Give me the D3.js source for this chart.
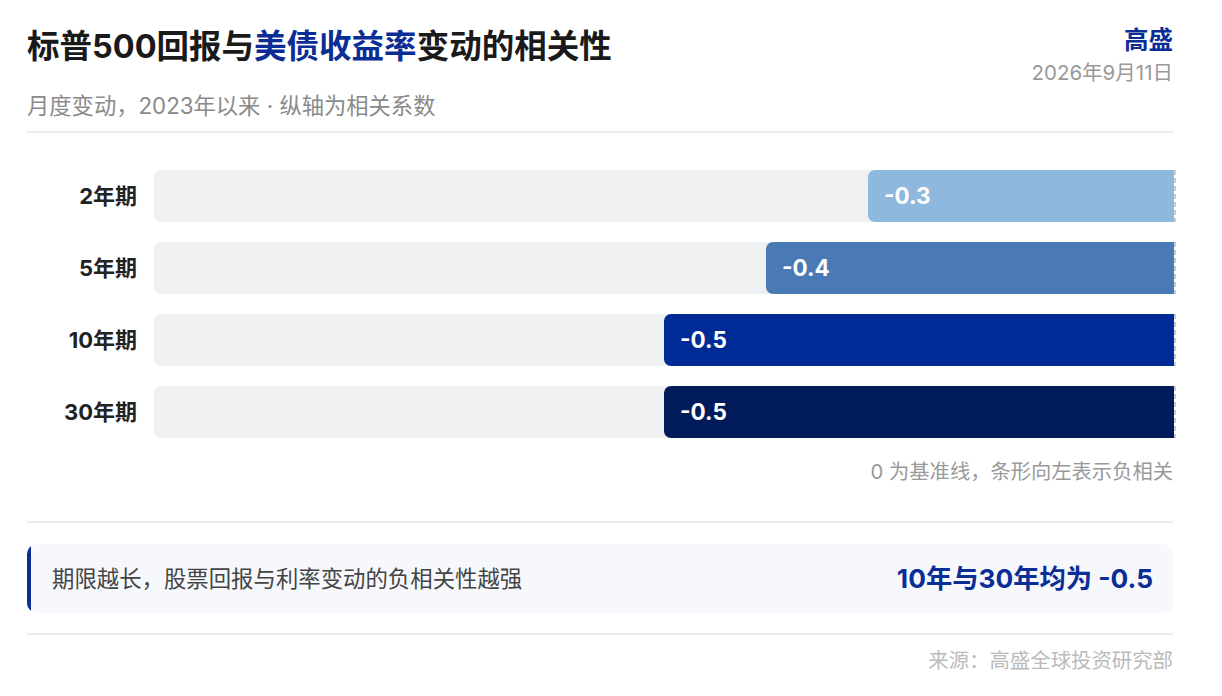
<!DOCTYPE html>
<html>
<head>
<meta charset="utf-8">
<script src="https://cdn.jsdelivr.net/npm/d3@7"></script>
<style>
  html, body { margin: 0; padding: 0; background: #fff; }
  svg { display: block; font-family: "Inter", "Noto Sans CJK SC", sans-serif; }
</style>
</head>
<body>
<div id="chart"></div>
<script>
// 数据
const tenors = ["2年期", "5年期", "10年期", "30年期"];
const correlations = [-0.3, -0.4, -0.5, -0.5];
const barColors = ["#8fb8de", "#4a7ab5", "#002a96", "#001a5a"];
const xDomain = [-1, 0];

const W = 1222, H = 696;
const blue = "#0a2d96";

const svg = d3.select("#chart").append("svg")
    .attr("width", W).attr("height", H);

// 标题
const title = svg.append("text")
    .attr("x", 27).attr("y", 58)
    .style("font-size", "32.5px").style("font-weight", 700).style("fill", "#1a1a1a");
title.append("tspan").text("标普500回报与");
title.append("tspan").text("美债收益率").style("fill", blue);
title.append("tspan").text("变动的相关性");

svg.append("text")
    .attr("x", 27).attr("y", 114)
    .style("font-size", "22.3px").style("fill", "#8a8a8a")
    .text("月度变动，2023年以来 · 纵轴为相关系数");

svg.append("text")
    .attr("x", 1173).attr("y", 49).attr("text-anchor", "end")
    .style("font-size", "24.5px").style("font-weight", 700).style("fill", blue)
    .text("高盛");

svg.append("text")
    .attr("x", 1173).attr("y", 80).attr("text-anchor", "end")
    .style("font-size", "20.5px").style("fill", "#999")
    .text("2026年9月11日");

function rule(y) {
    svg.append("line")
        .attr("x1", 27).attr("x2", 1173).attr("y1", y).attr("y2", y)
        .style("stroke", "#ececec").style("stroke-width", 2);
}
rule(132);

// 条形
const x = d3.scaleLinear().domain(xDomain).range([154, 1174]);
const y = d3.scaleBand().domain(tenors).range([160, 448]).paddingInner(0.277).paddingOuter(0.14);

const rows = svg.append("g").selectAll("g")
    .data(tenors.map((t, i) => ({ t, v: correlations[i], c: barColors[i] })))
    .join("g");

// 背景轨道
rows.append("path")
    .attr("d", d => leftRounded(x(xDomain[0]), y(d.t), x(0) - x(xDomain[0]), y.bandwidth(), 7))
    .style("fill", "#eff0f2");

rows.append("path")
    .attr("d", d => leftRounded(x(d.v), y(d.t), x(0) - x(d.v), y.bandwidth(), 7))
    .style("fill", d => d.c);

rows.append("text")
    .attr("x", d => x(d.v) + 16)
    .attr("y", d => y(d.t) + y.bandwidth() / 2)
    .attr("dy", "0.36em")
    .style("font-size", "22.5px").style("font-weight", 700).style("fill", "#fff")
    .text(d => d3.format(".1f")(d.v).replace("−", "-"));

rows.append("text")
    .attr("x", 137)
    .attr("y", d => y(d.t) + y.bandwidth() / 2)
    .attr("dy", "0.36em").attr("text-anchor", "end")
    .style("font-size", "22px").style("font-weight", 700).style("fill", "#222")
    .text(d => d.t);

// 零基准线
rows.append("line")
    .attr("x1", x(0) + 1).attr("x2", x(0) + 1)
    .attr("y1", d => y(d.t)).attr("y2", d => y(d.t) + y.bandwidth())
    .style("stroke", "#c8ccd4").style("stroke-width", 2).style("stroke-dasharray", "5 3");

function leftRounded(x0, y0, w, h, r) {
    return `M${x0 + r},${y0}H${x0 + w}V${y0 + h}H${x0 + r}` +
        `A${r},${r} 0 0 1 ${x0},${y0 + h - r}V${y0 + r}A${r},${r} 0 0 1 ${x0 + r},${y0}Z`;
}

svg.append("text")
    .attr("x", 1173).attr("y", 479).attr("text-anchor", "end")
    .style("font-size", "20.3px").style("fill", "#999")
    .text("0 为基准线，条形向左表示负相关");

rule(522);

// 结论框
svg.append("rect")
    .attr("x", 27).attr("y", 544).attr("width", 1146).attr("height", 69).attr("rx", 10)
    .style("fill", "#f6f8fc");
svg.append("clipPath").attr("id", "cb")
    .append("rect").attr("x", 27).attr("y", 544).attr("width", 1146).attr("height", 69).attr("rx", 10);
svg.append("rect")
    .attr("x", 27).attr("y", 544).attr("width", 4).attr("height", 69)
    .attr("clip-path", "url(#cb)")
    .style("fill", blue);

svg.append("text")
    .attr("x", 52).attr("y", 587)
    .style("font-size", "22.4px").style("fill", "#444")
    .text("期限越长，股票回报与利率变动的负相关性越强");

svg.append("text")
    .attr("x", 1153).attr("y", 588).attr("text-anchor", "end")
    .style("font-size", "26.3px").style("font-weight", 700).style("fill", blue)
    .text("10年与30年均为 -0.5");

rule(634);

svg.append("text")
    .attr("x", 1173).attr("y", 668).attr("text-anchor", "end")
    .style("font-size", "20.4px").style("fill", "#bbb")
    .text("来源：高盛全球投资研究部");
</script>
</body>
</html>
